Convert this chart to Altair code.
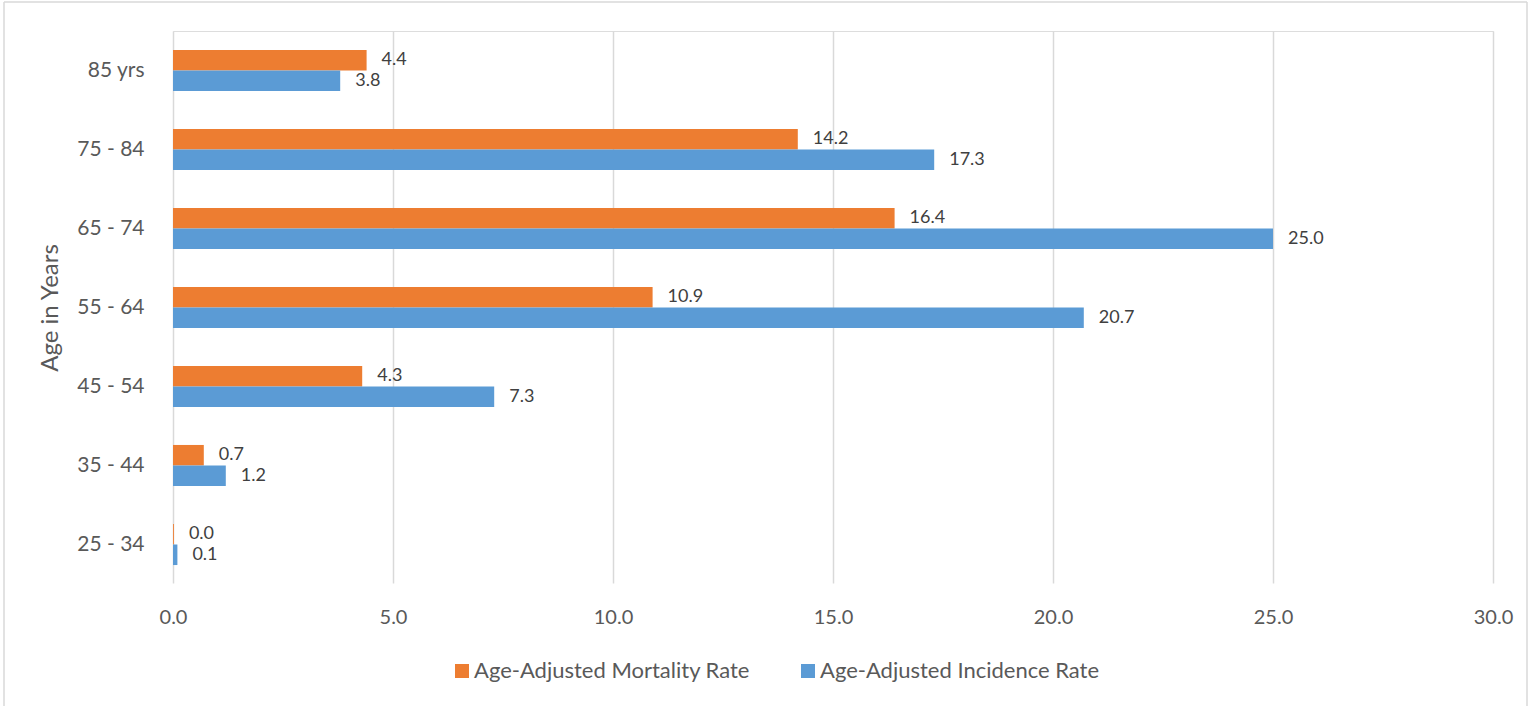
import altair as alt
import pandas as pd

ages = ["85 yrs", "75 - 84", "65 - 74", "55 - 64", "45 - 54", "35 - 44", "25 - 34"]
series = ["Age-Adjusted Mortality Rate", "Age-Adjusted Incidence Rate"]
mortality = [4.4, 14.2, 16.4, 10.9, 4.3, 0.7, 0.02]
incidence = [3.8, 17.3, 25.0, 20.7, 7.3, 1.2, 0.1]
x_ticks = [0, 5, 10, 15, 20, 25, 30]
colors = ["#ED7D31", "#5B9BD5"]

rows = []
for a, m, i in zip(ages, mortality, incidence):
    rows.append({"age": a, "series": series[0], "value": m})
    rows.append({"age": a, "series": series[1], "value": i})
df = pd.DataFrame(rows)

FONT = "Lato"
TXT = "#595959"

y_enc = alt.Y("age:N", sort=ages,
              scale=alt.Scale(paddingInner=0.48, paddingOuter=0.24),
              axis=alt.Axis(title="Age in Years", titleFontSize=24, titleFont=FONT,
                            titleFontWeight="normal", titleColor=TXT, titlePadding=14,
                            labelFontSize=21, labelFont=FONT, labelColor=TXT,
                            labelPadding=29, ticks=False, domain=False, grid=False))
x_enc = alt.X("value:Q", scale=alt.Scale(domain=[0, 30], nice=False),
              axis=alt.Axis(values=x_ticks, format=".1f", title=None, grid=True,
                            gridColor="#D9D9D9", gridWidth=1.5, ticks=False, domain=False,
                            labelFlush=False, labelFontSize=20, labelFont=FONT,
                            labelColor=TXT, labelPadding=23))
yoff = alt.YOffset("series:N", sort=series)

base = alt.Chart(df)
bars = base.mark_bar().encode(
    x=x_enc, y=y_enc, yOffset=yoff,
    color=alt.Color("series:N", sort=series,
                    scale=alt.Scale(domain=series, range=colors),
                    legend=alt.Legend(title=None, orient="none", direction="horizontal",
                                      legendX=278, legendY=629, symbolType="square",
                                      symbolSize=196, symbolStrokeWidth=0, labelOffset=1,
                                      labelFontSize=22, labelFont=FONT, labelColor=TXT,
                                      columnPadding=47, labelLimit=400)),
)
labels = base.mark_text(align="left", baseline="middle", dx=15, fontSize=18,
                        font=FONT, color="#404040").encode(
    x=x_enc, y=y_enc, yOffset=yoff,
    text=alt.Text("value:Q", format=".1f"),
)
one = alt.Data(values=[{"a": 1}])
BC = "#D9D9D9"
b_top = alt.Chart(one).mark_rule(color=BC, strokeWidth=1.5).encode(
    x=alt.value(-169), x2=alt.value(1354), y=alt.value(-29))
b_left = alt.Chart(one).mark_rule(color=BC, strokeWidth=1.5).encode(
    x=alt.value(-169), y=alt.value(-29), y2=alt.value(690))
b_right = alt.Chart(one).mark_rule(color=BC, strokeWidth=1.5).encode(
    x=alt.value(1354), y=alt.value(-29), y2=alt.value(690))
# white mask over the bottom edge of the plot area
mask = alt.Chart(one).mark_rule(color="white", strokeWidth=3).encode(
    x=alt.value(-2), x2=alt.value(1323), y=alt.value(554))

chart = alt.layer(b_top, b_left, b_right, mask, bars, labels).properties(
    width=1320, height=553,
    autosize=alt.AutoSizeParams(type="none"),
    padding={"left": 173, "top": 31, "right": 42, "bottom": 122},
).configure_view(stroke="transparent", strokeWidth=0).configure_axis(
    domain=False, ticks=False
).configure(background="white")

chart.save("out.html", embed_options={"renderer": "svg", "actions": False})
